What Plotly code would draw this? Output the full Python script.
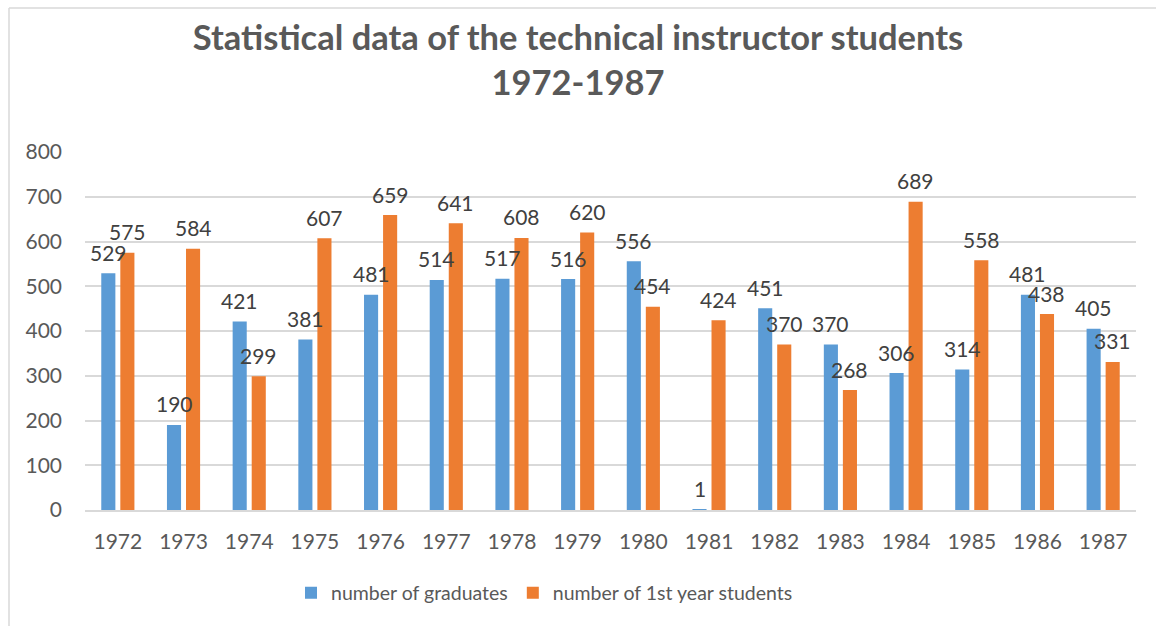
import plotly.graph_objects as go

years = ["1972","1973","1974","1975","1976","1977","1978","1979","1980","1981","1982","1983","1984","1985","1986","1987"]
graduates = [529,190,421,381,481,514,517,516,556,1,451,370,306,314,481,405]
first_year = [575,584,299,607,659,641,608,620,454,424,370,268,689,558,438,331]
series_names = ["number of graduates", "number of 1st year students"]
series_colors = ["#5B9BD5", "#ED7D31"]

W, H = 1156, 626
L, R, T, B = 85, 20, 152, 116
pw, ph = W - L - R, H - T - B

txt = "#595959"
lbl = "#404040"
font_fam = "Lato, 'Open Sans', sans-serif"
BARGAP, GROUPGAP = 0.42, 0.26

fig = go.Figure()
for vals, name, col in zip([graduates, first_year], series_names, series_colors):
    fig.add_trace(go.Bar(x=years, y=vals, name=name, marker=dict(color=col, line=dict(width=0)),
                         hoverinfo="skip"))

# data labels centred over each bar, offset from the bar top
cat_w = pw / len(years)
slot = cat_w * (1 - BARGAP) / 2
for i, vals in enumerate([graduates, first_year]):
    dx = (i - 0.5) * slot
    for j, v in enumerate(vals):
        fig.add_annotation(x=j, y=v, xref="x", yref="y", text=str(v), showarrow=False,
                           xshift=dx, yshift=21, yanchor="middle", xanchor="center",
                           font=dict(size=21, color=lbl, family=font_fam))

def px_x(p):
    return (p - L) / pw
def px_y(p):
    return 1 - (p - T) / ph

fig.update_layout(
    width=W, height=H,
    margin=dict(l=L, r=R, t=T, b=B, autoexpand=False),
    paper_bgcolor="white", plot_bgcolor="white",
    barmode="group", bargap=BARGAP, bargroupgap=GROUPGAP,
    title=dict(text="<b>Statistical data of the technical instructor students<br>1972-1987</b>",
               x=0.5, xanchor="center", y=1 - 50 / H, yanchor="top",
               font=dict(size=34.5, color=txt, family=font_fam)),
    font=dict(family=font_fam, color=txt),
    xaxis=dict(type="category", categoryorder="array", categoryarray=years,
               range=[-0.5, len(years) - 0.5], autorange=False,
               tickfont=dict(size=21, color=txt), showline=True, linecolor="#D9D9D9",
               linewidth=1.5, ticks="", showgrid=False, ticklabelstandoff=12),
    yaxis=dict(range=[0, 800], autorange=False, dtick=100, tickfont=dict(size=21, color=txt),
               showgrid=True, gridcolor="#D9D9D9", gridwidth=1.5, zeroline=False,
               ticks="", ticklabelstandoff=22),
    legend=dict(orientation="h", x=px_x(291), xanchor="left", y=px_y(593), yanchor="middle",
                font=dict(size=19.5, color=txt), traceorder="normal"),
    showlegend=True,
)
fig.add_shape(type="line", xref="paper", yref="paper",
              x0=px_x(9), x1=px_x(1160), y0=px_y(8), y1=px_y(8),
              line=dict(color="#D9D9D9", width=1.5))
fig.add_shape(type="line", xref="paper", yref="paper",
              x0=px_x(9), x1=px_x(9), y0=px_y(8), y1=px_y(630),
              line=dict(color="#D9D9D9", width=1.5))

fig.write_html("out.html", config={"displayModeBar": False},
               post_script="document.body.style.margin='0';document.body.style.padding='0';")
